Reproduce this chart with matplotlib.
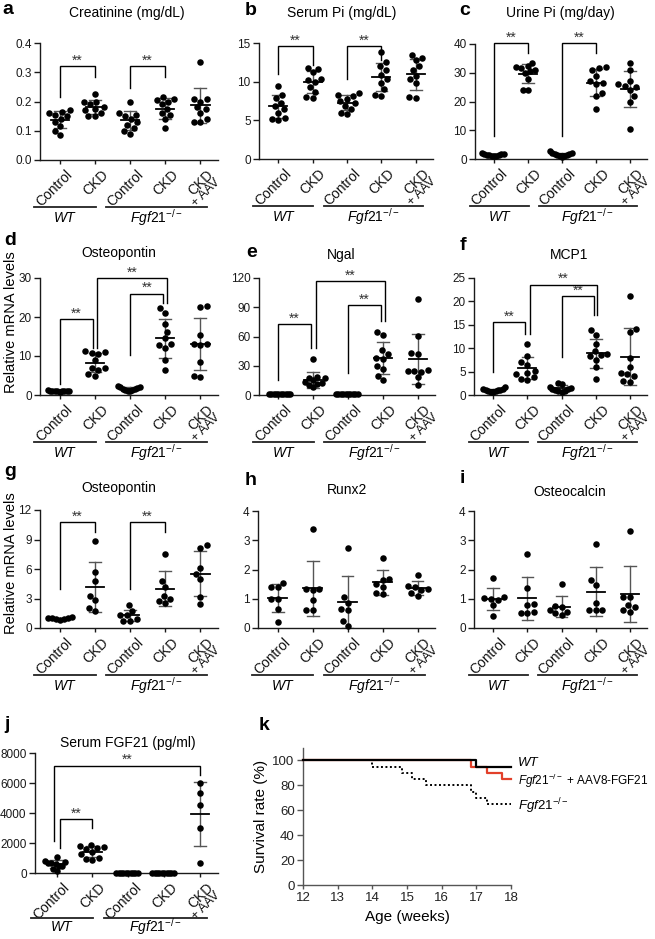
import numpy as np
import matplotlib
matplotlib.use('Agg')
import matplotlib.pyplot as plt
from matplotlib.transforms import blended_transform_factory as blend, ScaledTranslation

plt.rcParams.update({
    'font.family': ['Liberation Sans', 'DejaVu Sans'],
    'mathtext.fontset': 'custom',
    'mathtext.rm': 'Liberation Sans',
    'mathtext.it': 'Liberation Sans:italic',
    'mathtext.bf': 'Liberation Sans:bold',
    'axes.linewidth': 1.0,
})

W, H = 655, 939
DPI = 100

# ---------------------------------------------------------------- data
group_labels = ['Control', 'CKD', 'Control', 'CKD', 'CKD']

creatinine = [
    [0.17, 0.165, 0.16, 0.155, 0.15, 0.14, 0.13, 0.115, 0.10, 0.085],
    [0.225, 0.20, 0.20, 0.19, 0.18, 0.175, 0.17, 0.16, 0.15, 0.15],
    [0.20, 0.16, 0.155, 0.15, 0.14, 0.13, 0.12, 0.11, 0.10, 0.09],
    [0.215, 0.21, 0.205, 0.20, 0.19, 0.175, 0.16, 0.155, 0.14, 0.11],
    [0.335, 0.21, 0.21, 0.20, 0.18, 0.175, 0.16, 0.14, 0.13, 0.13],
]
serum_pi = [
    [9.5, 8.3, 7.9, 7.3, 6.8, 6.5, 6.0, 5.3, 5.2, 5.1],
    [11.8, 11.7, 11.2, 10.2, 10.3, 10.0, 9.3, 8.7, 8.0, 7.9],
    [8.5, 8.3, 8.2, 7.8, 7.5, 7.2, 6.9, 6.5, 6.0, 5.8],
    [13.8, 12.5, 12.0, 11.5, 10.8, 10.3, 9.8, 9.0, 8.3, 8.2],
    [13.5, 13.0, 12.8, 12.0, 11.5, 10.7, 10.3, 9.8, 8.0, 7.9],
]
urine_pi = [
    [2.0, 1.8, 1.7, 1.6, 1.5, 1.4, 1.3, 1.2, 1.1, 1.0],
    [33.5, 32.5, 32.0, 31.5, 31.0, 30.5, 30.0, 28.0, 24.0, 24.0],
    [2.8, 2.2, 2.0, 1.8, 1.6, 1.5, 1.3, 1.2, 1.0, 0.8],
    [32.0, 31.8, 31.0, 29.0, 27.0, 26.5, 26.0, 23.0, 22.0, 17.5],
    [33.5, 31.0, 27.0, 26.0, 25.5, 25.0, 24.0, 22.0, 20.0, 10.5],
]
osteopontin_kidney = [
    [1.2, 1.1, 1.1, 1.0, 1.0, 1.0, 0.9, 0.9, 0.9, 0.8],
    [11.2, 11.0, 10.8, 10.5, 9.0, 7.0, 6.8, 6.5, 5.5, 5.0],
    [2.3, 2.1, 2.0, 1.8, 1.6, 1.5, 1.4, 1.2, 1.1, 1.0],
    [22.2, 21.0, 18.3, 16.2, 14.5, 13.0, 12.8, 12.0, 9.0, 6.5],
    [22.8, 22.5, 15.5, 13.0, 13.0, 12.8, 8.5, 5.0, 4.5],
]
ngal = [
    [1.5, 1.3, 1.2, 1.1, 1.0, 1.0, 0.9, 0.8, 0.8, 0.7],
    [37, 18, 17, 17, 15, 13, 12, 11, 10, 8],
    [1.4, 1.3, 1.2, 1.1, 1.0, 1.0, 0.9, 0.9, 0.8, 0.7],
    [65, 62, 46, 42, 38, 37, 30, 27, 20, 15],
    [98, 61, 43, 42, 26, 25, 25, 24, 18, 10],
]
mcp1 = [
    [1.8, 1.3, 1.2, 1.1, 1.0, 1.0, 0.9, 0.8, 0.7, 0.6],
    [10.8, 8.3, 7.0, 6.5, 5.2, 4.8, 4.5, 3.8, 3.5, 3.2],
    [2.6, 2.4, 1.8, 1.5, 1.3, 1.2, 1.0, 0.9, 0.8, 0.7],
    [13.9, 12.8, 11.0, 9.3, 8.8, 8.5, 8.3, 7.5, 6.0, 3.4],
    [21.2, 14.1, 13.5, 8.0, 6.0, 4.8, 4.5, 4.0, 3.0, 2.8],
]
osteopontin_bone = [
    [1.1, 1.0, 1.0, 1.0, 0.9, 0.9, 0.8],
    [8.8, 5.7, 4.8, 3.3, 2.8, 2.0, 1.7],
    [2.3, 1.7, 1.3, 1.3, 0.9, 0.7, 0.7],
    [7.5, 4.8, 4.2, 3.3, 3.0, 2.7, 2.5],
    [8.4, 8.1, 6.1, 5.5, 5.0, 3.2, 2.4],
]
runx2 = [
    [1.55, 1.4, 1.4, 1.0, 0.98, 0.65, 0.2],
    [3.38, 1.35, 1.3, 1.32, 0.95, 0.62, 0.62],
    [2.75, 1.05, 0.85, 0.65, 0.6, 0.25, 0.08],
    [2.4, 1.68, 1.65, 1.5, 1.4, 1.18, 1.15],
    [1.82, 1.45, 1.4, 1.35, 1.3, 1.2, 1.1],
]
osteocalcin = [
    [1.7, 1.05, 1.02, 1.0, 0.95, 0.78, 0.42],
    [2.52, 1.37, 0.82, 0.8, 0.55, 0.52, 0.5],
    [1.5, 0.75, 0.72, 0.6, 0.55, 0.5, 0.45],
    [2.87, 1.63, 1.48, 0.87, 0.62, 0.6, 0.6],
    [3.32, 1.07, 1.05, 0.8, 0.72, 0.62, 0.55],
]
serum_fgf21 = [
    [1050, 800, 750, 700, 650, 600, 500, 450, 300, 150],
    [1900, 1800, 1750, 1700, 1600, 1400, 1250, 1000, 950, 900],
    [0, 0, 0, 0, 0, 0, 0, 0, 0, 0],
    [0, 0, 0, 0, 0, 0, 0, 0, 0, 0],
    [6000, 5350, 4550, 3000, 650],
]

# significance brackets: (x_left, x_right, y_top, y_left_end, y_right_end)
br_creat = [(0, 1, 0.32, 0.215, 0.285), (2, 3, 0.32, 0.245, 0.285)]
br_spi = [(0, 1, 14.6, 11.0, 12.2), (2, 3, 14.6, 10.3, 12.8)]
br_upi = [(0, 1, 40.2, 8.1, 36.8), (2, 3, 40.2, 8.1, 36.8)]
br_opn_k = [(0, 0.95, 19.5, 2.8, 12.0), (1.05, 3.05, 30, 12.0, 23.6), (2, 2.95, 26, 10.3, 23.6)]
br_ngal = [(0, 0.93, 73, 15.4, 48.7), (1.07, 3.05, 116.6, 48.7, 75.4), (2, 2.95, 92.6, 22.3, 75.4)]
br_mcp1 = [(0, 0.93, 15.5, 5.0, 13.1), (1.07, 3.05, 23.6, 13.1, 17.0), (2, 2.95, 21.2, 8.2, 17.0)]
br_opn_b = [(0, 1, 10.8, 4.0, 9.8), (2, 3, 10.8, 4.0, 9.8)]
br_fgf21 = [(0.1, 1, 3600, 1667, 3000), (-0.08, 4, 7156, 2111, 6556)]

# survival (Kaplan-Meier steps)
surv_weeks_wt = [12, 17, 18]
surv_wt = [100, 95, 95]
surv_weeks_aav = [12, 16.85, 17.3, 17.75, 18]
surv_aav = [100, 95, 90, 85, 85]
surv_weeks_ko = [12, 14, 14.85, 15.15, 15.55, 16.85, 17.0, 17.3, 18]
surv_ko = [100, 95, 90, 85, 80, 75, 70, 65, 65]

# ---------------------------------------------------------------- helpers
fig = plt.figure(figsize=(W / DPI, H / DPI), dpi=DPI)
KO = r'$\mathit{Fgf21}^{-/-}$'
AX_COL = '#1a1a1a'
SD_COL = '#555555'
XT_SIZE = 10


def px_ax(l, t, r, b):
    return fig.add_axes([l / W, 1 - b / H, (r - l) / W, (b - t) / H])


def fig_text(x, y, s, **kw):
    fig.text(x / W, 1 - y / H, s, **kw)


def swarm_offsets(ax, x0, vals, diam=6.8, max_px=12.0):
    tr = ax.transData
    ypx = tr.transform(np.column_stack([np.full(len(vals), x0), vals]))[:, 1]
    xscale = tr.transform((1, 0))[0] - tr.transform((0, 0))[0]
    order = np.argsort(ypx, kind='stable')
    placed = []
    offs = np.zeros(len(vals))
    for k, i in enumerate(order):
        y = ypx[i]
        cands = [0.0]
        for (px, py) in placed:
            dy = abs(py - y)
            if dy < diam:
                dx = np.sqrt(diam ** 2 - dy ** 2)
                cands += [px - dx, px + dx]
        sgn = 1 if k % 2 else -1
        cands = sorted(cands, key=lambda c: (round(abs(c), 3), sgn * c))
        chosen = 0.0
        for c in cands:
            if all((c - px) ** 2 + (y - py) ** 2 >= diam ** 2 - 1e-6 for px, py in placed):
                chosen = c
                break
        placed.append((chosen, y))
        offs[i] = chosen
    m = np.max(np.abs(offs)) if len(offs) else 0
    if m > max_px:
        offs *= max_px / m
    return offs / xscale


def draw_group(ax, x, vals, mhalf=0.26, chalf=0.17):
    vals = np.asarray(vals, float)
    m = vals.mean()
    sd = vals.std(ddof=1)
    lo = max(m - sd, 0)
    ax.plot([x, x], [lo, m + sd], color=SD_COL, lw=1.0, zorder=2, clip_on=False)
    ax.plot([x - chalf, x + chalf], [m + sd, m + sd], color=SD_COL, lw=1.0, zorder=2, clip_on=False)
    if m - sd > 0:
        ax.plot([x - chalf, x + chalf], [m - sd, m - sd], color=SD_COL, lw=1.0, zorder=2)
    offs = swarm_offsets(ax, x, vals)
    ax.scatter(x + offs, vals, s=22, c='black', linewidths=0, zorder=3, clip_on=False)
    ax.plot([x - mhalf, x + mhalf], [m, m], color='black', lw=1.3, zorder=4, clip_on=False)


def draw_bracket(ax, br):
    x1, x2, top, e1, e2 = br
    ax.plot([x1, x1, x2, x2], [e1, top, top, e2], color='black', lw=1.0,
            clip_on=False, zorder=5, solid_joinstyle='miter')
    ax.annotate('**', xy=((x1 + x2) / 2, top), xytext=(0, 1.0), textcoords='offset points',
                ha='center', va='baseline', fontsize=10, color='#333333', annotation_clip=False)


def style_axis(ax):
    for s in ('top', 'right'):
        ax.spines[s].set_visible(False)
    for s in ('left', 'bottom'):
        ax.spines[s].set_color(AX_COL)
        ax.spines[s].set_linewidth(1.0)
    ax.tick_params(axis='both', colors=AX_COL, width=1.0, labelsize=8.5, direction='out')
    ax.tick_params(axis='y', length=4, pad=2)
    ax.tick_params(axis='x', length=3, pad=0)


def scatter_panel(rect, data, ylim, yticks, title, title_x, title_y, letter, letter_xy,
                  brackets=(), yfmt='{:g}', xlim=(-0.56, 4.5), ylabel=None, ylabel_xy=None,
                  geno_off=(47, 58)):
    l, t, r, b = rect
    ax = px_ax(l, t, r, b)
    ax.set_xlim(*xlim)
    ax.set_ylim(*ylim)
    style_axis(ax)
    ax.set_yticks(yticks)
    ax.set_yticklabels([yfmt.format(v) for v in yticks])
    ax.set_xticks(range(5))
    ax.set_xticklabels(group_labels, rotation=45, ha='right', va='top',
                       rotation_mode='anchor', fontsize=XT_SIZE, color='#111111')
    shift = ScaledTranslation(6 / DPI, -3 / DPI, fig.dpi_scale_trans)
    for lbl in ax.get_xticklabels():
        lbl.set_transform(lbl.get_transform() + shift)
    # second line of the last label
    tr_x = blend(ax.transData, ax.transAxes)
    ax.text(4, 0, '+ AAV', transform=tr_x + ScaledTranslation(14 / DPI, -16 / DPI, fig.dpi_scale_trans),
            rotation=45, ha='right', va='top', rotation_mode='anchor', fontsize=9,
            color='#111111')
    for i, vals in enumerate(data):
        draw_group(ax, i, vals)
    for br in brackets:
        draw_bracket(ax, br)
    # genotype rows
    hpx = b - t
    yl = -geno_off[0] / hpx
    yt = -geno_off[1] / hpx
    ax.plot([-0.72, 1.02], [yl, yl], transform=tr_x, clip_on=False, color='#222222', lw=1.3)
    ax.plot([1.32, 4.2], [yl, yl], transform=tr_x, clip_on=False, color='#222222', lw=1.3)
    ax.text(0.15, yt, 'WT', style='italic', transform=tr_x, ha='center', va='center', fontsize=10)
    ax.text(2.76, yt, KO, transform=tr_x, ha='center', va='center', fontsize=10)
    fig_text(title_x, title_y, title, ha='center', va='center', fontsize=10)
    fig_text(letter_xy[0], letter_xy[1], letter, ha='left', va='baseline', fontsize=14,
             fontweight='bold')
    if ylabel:
        fig_text(ylabel_xy[0], ylabel_xy[1], ylabel, ha='center', va='center', rotation=90,
                 fontsize=10.5)
    return ax


# ---------------------------------------------------------------- row 1
scatter_panel((40, 43, 218, 160), creatinine, (0, 0.4), [0, 0.1, 0.2, 0.3, 0.4],
              'Creatinine (mg/dL)', 127, 13, 'a', (2, 14), br_creat, yfmt='{:.1f}')
scatter_panel((259, 43, 433, 159), serum_pi, (0, 15), [0, 5, 10, 15],
              'Serum Pi (mg/dL)', 342, 13, 'b', (245, 15), br_spi)
scatter_panel((475, 44, 647, 159), urine_pi, (0, 40), [0, 10, 20, 30, 40],
              'Urine Pi (mg/day)', 560, 13, 'c', (459, 15), br_upi)

# ---------------------------------------------------------------- row 2
scatter_panel((40, 278, 218, 395), osteopontin_kidney, (0, 30), [0, 10, 20, 30],
              'Osteopontin', 119, 253, 'd', (4, 245), br_opn_k,
              ylabel='Relative mRNA levels', ylabel_xy=(11, 322))
scatter_panel((259, 278, 435, 395), ngal, (0, 120), [0, 30, 60, 90, 120],
              'Ngal', 341, 255, 'e', (246, 257), br_ngal)
scatter_panel((474, 278, 647, 395), mcp1, (0, 25), [0, 5, 10, 15, 20, 25],
              'MCP1', 569, 255, 'f', (460, 250), br_mcp1)

# ---------------------------------------------------------------- row 3
scatter_panel((40, 510, 218, 628), osteopontin_bone, (0, 12), [0, 3, 6, 9, 12],
              'Osteopontin', 119, 488, 'g', (4, 476), br_opn_b,
              ylabel='Relative mRNA levels', ylabel_xy=(11, 563))
scatter_panel((258, 511, 435, 628), runx2, (0, 4), [0, 1, 2, 3, 4],
              'Runx2', 347, 490, 'h', (245, 485), ())
scatter_panel((474, 511, 647, 628), osteocalcin, (0, 4), [0, 1, 2, 3, 4],
              'Osteocalcin', 570, 492, 'i', (460, 483), ())

# ---------------------------------------------------------------- row 4
scatter_panel((35, 753, 218, 873), serum_fgf21, (0, 8000), [0, 2000, 4000, 6000, 8000],
              'Serum FGF21 (pg/ml)', 128, 743, 'j', (4, 729), br_fgf21, xlim=(-0.6, 4.5),
              geno_off=(45, 54))

# survival panel
axk = px_ax(303, 748, 511, 885)
axk.set_xlim(12, 18)
axk.set_ylim(0, 110)
style_axis(axk)
for s in ('left', 'bottom'):
    axk.spines[s].set_color('#555555')
axk.tick_params(axis='both', colors='#555555', labelcolor='#222222', labelsize=9.5)
axk.tick_params(axis='x', pad=2)
axk.set_xticks(range(12, 19))
axk.set_yticks(range(0, 101, 20))
axk.step(surv_weeks_aav, surv_aav, where='post', color='#e2402a', lw=1.6, clip_on=False, zorder=3)
axk.step(surv_weeks_ko, surv_ko, where='post', color='black', lw=1.4, ls=(0, (1, 1.3)),
         clip_on=False, zorder=3)
axk.step(surv_weeks_wt, surv_wt, where='post', color='black', lw=1.6, clip_on=False, zorder=4)
axk.set_xlabel('Age (weeks)', fontsize=11, labelpad=4)
axk.set_ylabel('Survival rate (%)', fontsize=11, labelpad=3)
axk.text(18.2, 98, 'WT', style='italic', ha='left', va='center', fontsize=9.5)
axk.text(18.2, 83.5, KO + ' + AAV8-FGF21', ha='left', va='center', fontsize=8.5)
axk.text(18.2, 63, KO, ha='left', va='center', fontsize=9.5)
fig_text(259, 730, 'k', ha='left', va='baseline', fontsize=14, fontweight='bold')

fig.savefig('out.png', dpi=DPI)
